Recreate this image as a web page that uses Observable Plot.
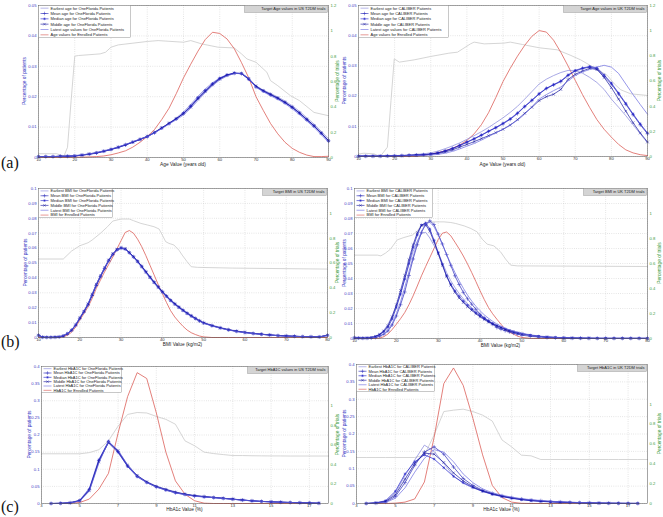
<!DOCTYPE html>
<html><head><meta charset="utf-8">
<script src="https://cdn.jsdelivr.net/npm/d3@7"></script>
<script src="https://cdn.jsdelivr.net/npm/@observablehq/plot@0.6"></script>
<style>
body{margin:0;background:#fff;}
#root{position:relative;width:663px;height:517px;overflow:hidden;font-family:"Liberation Sans",Arial,sans-serif;background:#fff;}
</style></head><body><div id="root"></div>
<script>
// ---------- tick labels ----------
const ageTicks = [10,20,30,40,50,60,70,80,90];
const ageYTicks = [0,0.01,0.02,0.03,0.04,0.05];
const bmiTicks = [10,20,30,40,50,60,70,80];
const bmiYTicks = [0,0.01,0.02,0.03,0.04,0.05,0.06,0.07,0.08,0.09,0.1];
const hbaTicks = [3,5,7,9,11,13,15,17];
const hbaYTicks = [0,0.05,0.1,0.15,0.2,0.25,0.3,0.35,0.4];
const trialTicks12 = [0,0.2,0.4,0.6,0.8,1,1.2];
const trialTicks10 = [0,0.2,0.4,0.6,0.8,1];

// ---------- (a) Age ----------
const ageX = [10,12,14,16,18,20,22,24,26,28,30,32,34,36,38,40,42,44,46,48,50,52,54,56,58,60,62,64,66,68,70,72,74,76,78,80,82,84,86,88,90];
const ofAgeEarliest = [0.0003,0.0003,0.0003,0.0004,0.0004,0.0005,0.0007,0.0010,0.0014,0.0020,0.0026,0.0033,0.0041,0.0050,0.0059,0.0069,0.0082,0.0097,0.0113,0.0130,0.0150,0.0175,0.0202,0.0226,0.0246,0.0262,0.0272,0.0277,0.0275,0.0258,0.0236,0.0222,0.0211,0.0199,0.0186,0.0170,0.0152,0.0131,0.0110,0.0086,0.0062];
const ofAgeMean = [0.0003,0.0003,0.0003,0.0004,0.0004,0.0005,0.0008,0.0011,0.0015,0.0021,0.0027,0.0034,0.0042,0.0051,0.0060,0.0069,0.0082,0.0097,0.0112,0.0127,0.0145,0.0168,0.0195,0.0219,0.0241,0.0259,0.0271,0.0277,0.0276,0.0258,0.0233,0.0219,0.0207,0.0195,0.0181,0.0165,0.0146,0.0125,0.0104,0.0080,0.0055];
const ofAgeMedian = [0.0003,0.0003,0.0003,0.0004,0.0004,0.0005,0.0008,0.0011,0.0015,0.0020,0.0026,0.0033,0.0041,0.0050,0.0059,0.0068,0.0081,0.0096,0.0111,0.0127,0.0146,0.0170,0.0197,0.0221,0.0243,0.0261,0.0272,0.0278,0.0276,0.0257,0.0232,0.0218,0.0206,0.0194,0.0180,0.0164,0.0145,0.0124,0.0103,0.0079,0.0054];
const ofAgeMiddle = [0.0003,0.0003,0.0003,0.0004,0.0005,0.0006,0.0008,0.0012,0.0016,0.0021,0.0027,0.0034,0.0042,0.0051,0.0060,0.0070,0.0083,0.0098,0.0113,0.0128,0.0144,0.0166,0.0193,0.0217,0.0239,0.0258,0.0270,0.0277,0.0277,0.0260,0.0235,0.0220,0.0208,0.0196,0.0182,0.0166,0.0147,0.0126,0.0105,0.0081,0.0056];
const ofAgeLatest = [0.0003,0.0003,0.0003,0.0004,0.0005,0.0006,0.0009,0.0012,0.0016,0.0022,0.0028,0.0035,0.0043,0.0052,0.0061,0.0069,0.0081,0.0095,0.0110,0.0124,0.0140,0.0162,0.0188,0.0213,0.0236,0.0255,0.0268,0.0276,0.0277,0.0261,0.0231,0.0216,0.0203,0.0191,0.0177,0.0160,0.0141,0.0120,0.0099,0.0075,0.0050];
const ofAgeEnrolled = [0,0,0,0,0,0.0001,0.0001,0.0002,0.0003,0.0005,0.0009,0.0015,0.0022,0.0034,0.0050,0.0069,0.0092,0.0125,0.0162,0.0210,0.0262,0.0307,0.0350,0.0388,0.0412,0.0408,0.0390,0.0358,0.0312,0.0262,0.0200,0.0155,0.0112,0.0078,0.0050,0.0030,0.0017,0.0008,0.0003,0.0003,0.0004];
const ofAgeTrialX = [10,15,17,18,19,20,21,27,28.5,30,32,40,43,50,52,55,59.5,64,66,67.5,70,73,74,76,79.5,82,86,90];
const ofAgeTrial = [0.03,0.03,0.01,0.08,0.45,0.80,0.805,0.818,0.831,0.871,0.889,0.916,0.923,0.910,0.923,0.897,0.871,0.865,0.818,0.778,0.752,0.673,0.607,0.567,0.488,0.449,0.356,0.330];

const calAgeEarliest = [0.0003,0.0003,0.0002,0.0002,0.0002,0.0003,0.0004,0.0005,0.0007,0.0009,0.0012,0.0018,0.0026,0.0035,0.0045,0.0057,0.0069,0.0082,0.0096,0.0112,0.0128,0.0146,0.0166,0.0190,0.0215,0.0240,0.0256,0.0268,0.0278,0.0285,0.0285,0.0276,0.0262,0.0245,0.0222,0.0190,0.0163,0.0135,0.0105,0.0075,0.0045];
const calAgeMean = [0.0001,0.0001,0.0001,0.0001,0.0002,0.0002,0.0003,0.0004,0.0005,0.0006,0.0008,0.0012,0.0018,0.0026,0.0036,0.0047,0.0058,0.0070,0.0083,0.0095,0.0108,0.0123,0.0142,0.0165,0.0185,0.0207,0.0225,0.0237,0.0248,0.0268,0.0283,0.0291,0.0296,0.0290,0.0265,0.0240,0.0207,0.0173,0.0138,0.0105,0.0075];
const calAgeMedian = [0.0001,0.0001,0.0001,0.0001,0.0002,0.0002,0.0003,0.0004,0.0005,0.0006,0.0008,0.0012,0.0019,0.0027,0.0037,0.0048,0.0059,0.0071,0.0084,0.0096,0.0110,0.0125,0.0144,0.0166,0.0187,0.0208,0.0226,0.0238,0.0250,0.0270,0.0285,0.0293,0.0298,0.0294,0.0270,0.0243,0.0210,0.0176,0.0141,0.0108,0.0078];
const calAgeMiddle = [0.0001,0.0001,0.0001,0.0001,0.0001,0.0002,0.0002,0.0003,0.0004,0.0005,0.0007,0.0010,0.0015,0.0022,0.0031,0.0040,0.0049,0.0059,0.0069,0.0079,0.0090,0.0104,0.0122,0.0143,0.0163,0.0185,0.0198,0.0206,0.0222,0.0255,0.0272,0.0283,0.0292,0.0288,0.0262,0.0228,0.0190,0.0150,0.0112,0.0078,0.0048];
const calAgeLatest = [0.0001,0.0001,0.0001,0.0001,0.0001,0.0002,0.0002,0.0003,0.0003,0.0004,0.0005,0.0007,0.0011,0.0017,0.0025,0.0034,0.0043,0.0054,0.0066,0.0078,0.0090,0.0104,0.0120,0.0140,0.0165,0.0190,0.0205,0.0218,0.0230,0.0250,0.0268,0.0280,0.0288,0.0296,0.0302,0.0296,0.0275,0.0240,0.0205,0.0172,0.0140];
const calAgeEnrolled = [0,0,0,0,0,0,0,0,0,0.0004,0.0008,0.0013,0.0019,0.0027,0.0038,0.0053,0.0075,0.0105,0.0145,0.0195,0.0248,0.0292,0.0332,0.0368,0.0398,0.0417,0.0412,0.0385,0.0345,0.0300,0.0252,0.0205,0.0162,0.0122,0.0090,0.0064,0.0040,0.0022,0.0012,0.0006,0.0003];
const calAgeTrialX = [10,11.5,14.3,16,18,19,19.9,21.3,25.4,30,35,37.4,41,42,44.8,50.3,52,55.4,60,65,68.8,71.5,75,78.9,80.8,82.6,85.4,90];
const calAgeTrial = [0.02,0.026,0.021,0,0.074,0.445,0.776,0.75,0.768,0.795,0.821,0.829,0.895,0.909,0.895,0.901,0.909,0.89,0.864,0.848,0.803,0.768,0.71,0.644,0.578,0.530,0.498,0.485];

// ---------- (b) BMI ----------
const bmiX = [10,11,12,13,14,15,16,17,18,19,20,21,22,23,24,25,26,27,28,29,30,31,32,33,34,35,36,37,38,39,40,41,42,43,44,45,46,47,48,49,50,52,54,56,58,60,62,64,66,68,70,72,74,76,78,80];
const ofBmiEarliest = [0.0016,0.0002,0.0001,0.0001,0.0002,0.0004,0.0010,0.0024,0.0046,0.0080,0.0125,0.0168,0.0216,0.0278,0.0345,0.0403,0.0457,0.0510,0.0553,0.0584,0.0597,0.0592,0.0570,0.0543,0.0514,0.0481,0.0446,0.0411,0.0377,0.0345,0.0313,0.0283,0.0255,0.0231,0.0209,0.0188,0.0168,0.0150,0.0132,0.0116,0.0102,0.0084,0.0068,0.0055,0.0044,0.0036,0.0029,0.0023,0.0018,0.0014,0.0011,0.0009,0.0007,0.0005,0.0004,0.0016];
const ofBmiMean = [0.0015,0.0002,0.0001,0.0001,0.0002,0.0004,0.0010,0.0025,0.0048,0.0082,0.0128,0.0172,0.0220,0.0283,0.0350,0.0408,0.0462,0.0515,0.0558,0.0588,0.0600,0.0594,0.0570,0.0542,0.0512,0.0478,0.0442,0.0406,0.0372,0.0340,0.0308,0.0278,0.0250,0.0226,0.0204,0.0183,0.0163,0.0145,0.0128,0.0112,0.0098,0.0080,0.0065,0.0052,0.0042,0.0034,0.0027,0.0022,0.0017,0.0013,0.0010,0.0008,0.0006,0.0005,0.0004,0.0015];
const ofBmiMedian = [0.0014,0.0002,0.0001,0.0001,0.0002,0.0004,0.0011,0.0026,0.0050,0.0085,0.0130,0.0175,0.0224,0.0287,0.0354,0.0412,0.0466,0.0518,0.0560,0.0590,0.0601,0.0593,0.0568,0.0540,0.0509,0.0475,0.0439,0.0403,0.0369,0.0337,0.0305,0.0276,0.0248,0.0224,0.0202,0.0181,0.0161,0.0144,0.0127,0.0111,0.0097,0.0079,0.0064,0.0051,0.0041,0.0033,0.0027,0.0021,0.0017,0.0013,0.0010,0.0008,0.0006,0.0005,0.0004,0.0014];
const ofBmiMiddle = [0.0015,0.0002,0.0001,0.0001,0.0002,0.0005,0.0011,0.0026,0.0049,0.0084,0.0131,0.0176,0.0225,0.0290,0.0357,0.0414,0.0468,0.0520,0.0562,0.0592,0.0603,0.0596,0.0571,0.0542,0.0511,0.0476,0.0440,0.0404,0.0370,0.0338,0.0306,0.0277,0.0249,0.0225,0.0203,0.0182,0.0162,0.0144,0.0127,0.0111,0.0097,0.0079,0.0064,0.0052,0.0042,0.0034,0.0027,0.0022,0.0017,0.0013,0.0010,0.0008,0.0006,0.0005,0.0004,0.0015];
const ofBmiLatest = [0.0014,0.0002,0.0001,0.0001,0.0002,0.0005,0.0012,0.0027,0.0051,0.0087,0.0134,0.0179,0.0228,0.0292,0.0358,0.0415,0.0468,0.0519,0.0560,0.0590,0.0602,0.0594,0.0567,0.0537,0.0505,0.0470,0.0434,0.0398,0.0364,0.0332,0.0300,0.0271,0.0244,0.0220,0.0198,0.0178,0.0158,0.0141,0.0124,0.0109,0.0095,0.0077,0.0062,0.0050,0.0040,0.0032,0.0026,0.0021,0.0016,0.0012,0.0009,0.0007,0.0006,0.0005,0.0004,0.0014];
const ofBmiEnrolled = [0,0,0,0,0,0,0.0005,0.0015,0.0035,0.0070,0.0116,0.0160,0.0205,0.0262,0.0330,0.0385,0.0440,0.0490,0.0540,0.0595,0.0650,0.0705,0.0718,0.0700,0.0660,0.0610,0.0550,0.0485,0.0420,0.0355,0.0295,0.0235,0.0180,0.0138,0.0105,0.0075,0.0050,0.0032,0.0020,0.0010,0.0004,0,0,0,0,0,0,0,0,0,0,0,0,0,0,0];
const ofBmiTrialX = [10,16,18,20,22,23,25,26.7,28,30,32,33,34.8,36.4,38,39.2,40,40.8,41.6,42.8,44,44.8,46,47,48.5,57,80];
const ofBmiTrial = [0.632,0.632,0.696,0.739,0.763,0.785,0.839,0.892,0.938,0.954,0.954,0.941,0.919,0.906,0.892,0.874,0.825,0.772,0.758,0.745,0.704,0.664,0.610,0.570,0.565,0.559,0.551];

const calBmiEarliest = [0.0006,0.0004,0.0003,0.0004,0.0008,0.0016,0.0030,0.0055,0.0095,0.0150,0.0218,0.0300,0.0395,0.0490,0.0580,0.0650,0.0700,0.0708,0.0670,0.0620,0.0573,0.0505,0.0440,0.0385,0.0340,0.0300,0.0265,0.0233,0.0205,0.0180,0.0158,0.0138,0.0120,0.0104,0.0090,0.0077,0.0066,0.0056,0.0048,0.0041,0.0035,0.0025,0.0017,0.0012,0.0008,0.0006,0.0004,0.0003,0.0002,0.0002,0.0001,0.0001,0.0001,0.0001,0.0001,0.0001];
const calBmiMean = [0.0005,0.0003,0.0002,0.0002,0.0003,0.0007,0.0015,0.0028,0.0050,0.0090,0.0150,0.0225,0.0310,0.0420,0.0530,0.0625,0.0707,0.0760,0.0785,0.0760,0.0696,0.0630,0.0560,0.0488,0.0418,0.0360,0.0307,0.0265,0.0229,0.0195,0.0162,0.0138,0.0118,0.0095,0.0073,0.0062,0.0052,0.0044,0.0036,0.0029,0.0022,0.0015,0.0010,0.0006,0.0004,0.0003,0.0002,0.0002,0.0001,0.0001,0.0001,0.0001,0.0001,0.0001,0.0001,0.0001];
const calBmiMedian = [0.0005,0.0003,0.0002,0.0003,0.0006,0.0012,0.0025,0.0045,0.0075,0.0130,0.0207,0.0295,0.0396,0.0500,0.0607,0.0690,0.0756,0.0770,0.0730,0.0655,0.0573,0.0495,0.0418,0.0362,0.0318,0.0282,0.0250,0.0222,0.0196,0.0172,0.0151,0.0132,0.0115,0.0100,0.0086,0.0074,0.0063,0.0053,0.0045,0.0038,0.0032,0.0022,0.0015,0.0010,0.0007,0.0005,0.0003,0.0002,0.0002,0.0001,0.0001,0.0001,0.0001,0.0001,0.0001,0.0001];
const calBmiMiddle = [0.0005,0.0003,0.0002,0.0003,0.0006,0.0013,0.0027,0.0050,0.0085,0.0145,0.0225,0.0320,0.0420,0.0525,0.0625,0.0705,0.0755,0.0758,0.0715,0.0645,0.0565,0.0488,0.0415,0.0355,0.0308,0.0270,0.0240,0.0212,0.0188,0.0165,0.0145,0.0127,0.0110,0.0096,0.0083,0.0071,0.0060,0.0051,0.0043,0.0036,0.0030,0.0021,0.0014,0.0009,0.0006,0.0004,0.0003,0.0002,0.0002,0.0001,0.0001,0.0001,0.0001,0.0001,0.0001,0.0001];
const calBmiLatest = [0.0005,0.0003,0.0002,0.0002,0.0004,0.0008,0.0017,0.0032,0.0058,0.0100,0.0165,0.0245,0.0340,0.0445,0.0545,0.0640,0.0715,0.0765,0.0775,0.0745,0.0690,0.0625,0.0560,0.0498,0.0440,0.0385,0.0335,0.0290,0.0250,0.0215,0.0185,0.0158,0.0135,0.0115,0.0097,0.0082,0.0069,0.0058,0.0048,0.0040,0.0033,0.0022,0.0015,0.0010,0.0007,0.0005,0.0003,0.0002,0.0002,0.0001,0.0001,0.0001,0.0001,0.0001,0.0001,0.0001];
const calBmiEnrolled = [0,0,0,0,0,0,0.0003,0.0012,0.0030,0.0060,0.0095,0.0132,0.0173,0.0225,0.0284,0.0350,0.0418,0.0480,0.0540,0.0600,0.0660,0.0702,0.0710,0.0685,0.0642,0.0598,0.0550,0.0497,0.0440,0.0380,0.0318,0.0260,0.0207,0.0165,0.0129,0.0095,0.0062,0.0042,0.0029,0.0015,0.0007,0.0001,0,0,0,0,0,0,0,0,0,0,0,0,0,0];
const calBmiTrialX = [10,15.5,16.3,17.4,18.6,20.2,21.8,23.8,25,25.8,27,28.2,31.4,33,34.2,36.2,37.8,39.3,40.5,41.7,43.3,44.9,46.1,47.3,48.9,80];
const calBmiTrial = [0.667,0.667,0.661,0.683,0.715,0.789,0.808,0.827,0.861,0.896,0.928,0.933,0.933,0.928,0.92,0.901,0.88,0.853,0.795,0.755,0.741,0.693,0.635,0.587,0.581,0.576];

// ---------- (c) HbA1c ----------
const hbaX = [3.5,4,4.5,5,5.5,6,6.5,7,7.5,8,8.5,9,9.5,10,10.5,11,11.5,12,12.5,13,13.5,14,14.5,15,15.5,16,16.5,17,17.5];
const ofHbaEarliest = [0,0.0006,0.0025,0.010,0.045,0.130,0.176,0.148,0.109,0.081,0.064,0.051,0.042,0.034,0.028,0.023,0.021,0.018,0.0155,0.013,0.0104,0.0081,0.0063,0.0051,0.004,0.0031,0.0023,0.0016,0.0009];
const ofHbaMean = [0,0.0005,0.002,0.008,0.040,0.125,0.180,0.152,0.110,0.080,0.062,0.049,0.040,0.032,0.027,0.022,0.020,0.0175,0.015,0.0126,0.010,0.0078,0.006,0.0049,0.0038,0.003,0.0022,0.0015,0.0008];
const ofHbaMedian = [0,0.0005,0.002,0.009,0.042,0.127,0.182,0.150,0.108,0.078,0.061,0.048,0.039,0.031,0.026,0.022,0.019,0.017,0.0148,0.0124,0.0099,0.0077,0.006,0.0048,0.0037,0.0029,0.0021,0.0014,0.0008];
const ofHbaMiddle = [0,0.0005,0.002,0.008,0.038,0.122,0.178,0.154,0.112,0.082,0.063,0.050,0.041,0.033,0.027,0.023,0.020,0.0177,0.0152,0.0128,0.0102,0.0079,0.0061,0.005,0.0039,0.003,0.0022,0.0015,0.0008];
const ofHbaLatest = [0,0.0004,0.0018,0.007,0.036,0.118,0.181,0.156,0.113,0.080,0.061,0.048,0.039,0.031,0.026,0.021,0.019,0.017,0.0146,0.0122,0.0097,0.0075,0.0058,0.0047,0.0036,0.0028,0.002,0.0014,0.0007];
const ofHbaEnrolled = [0,0,0.0005,0.003,0.013,0.042,0.088,0.205,0.312,0.382,0.365,0.265,0.150,0.066,0.027,0.008,0.001,0,0,0,0,0,0,0,0,0,0,0,0];
const hbaTrialX = [3,3.5,4,4.5,5,5.5,6,6.5,7,7.5,8,8.5,9,9.5,10,10.5,11,11.5,12,12.5,13,13.5,14,14.5,15,15.5,16,16.5,17,17.5,18];
const ofHbaTrial = [0.508,0.508,0.508,0.508,0.508,0.52,0.55,0.64,0.79,0.91,0.93,0.925,0.89,0.86,0.81,0.64,0.59,0.525,0.51,0.50,0.49,0.49,0.488,0.487,0.486,0.486,0.485,0.485,0.485,0.485,0.485];

const calHbaEarliest = [0,0.002,0.006,0.030,0.080,0.125,0.168,0.150,0.115,0.080,0.058,0.045,0.035,0.027,0.020,0.015,0.011,0.008,0.006,0.005,0.004,0.003,0.002,0.0015,0.001,0.0007,0.0005,0.0003,0.0002];
const calHbaMean = [0,0.001,0.004,0.020,0.060,0.110,0.148,0.163,0.142,0.105,0.072,0.052,0.038,0.029,0.022,0.017,0.013,0.010,0.008,0.006,0.0045,0.0035,0.0025,0.0018,0.0012,0.0008,0.0005,0.0003,0.0002];
const calHbaMedian = [0,0.002,0.008,0.035,0.085,0.120,0.140,0.128,0.103,0.078,0.060,0.046,0.035,0.026,0.020,0.015,0.011,0.008,0.006,0.0045,0.0035,0.0026,0.0019,0.0014,0.001,0.0007,0.0005,0.0003,0.0002];
const calHbaMiddle = [0,0.0015,0.006,0.025,0.070,0.115,0.145,0.142,0.118,0.088,0.065,0.048,0.036,0.028,0.021,0.016,0.012,0.009,0.007,0.0052,0.004,0.003,0.0022,0.0016,0.0011,0.0008,0.0005,0.0003,0.0002];
const calHbaLatest = [0,0.001,0.003,0.015,0.045,0.090,0.130,0.155,0.148,0.120,0.085,0.060,0.042,0.031,0.024,0.018,0.014,0.011,0.0085,0.0065,0.005,0.0038,0.0028,0.002,0.0014,0.001,0.0006,0.0004,0.0002];
const calHbaEnrolled = [0,0,0,0.001,0.004,0.013,0.062,0.190,0.345,0.390,0.340,0.245,0.140,0.052,0.017,0.004,0.0005,0,0,0,0,0,0,0,0,0,0,0,0];
const calHbaTrial = [0.463,0.463,0.463,0.463,0.463,0.463,0.463,0.487,0.69,0.926,0.94,0.95,0.926,0.89,0.83,0.64,0.57,0.487,0.48,0.443,0.443,0.443,0.443,0.443,0.443,0.443,0.443,0.443,0.443,0.443,0.443];

// ---------- legend texts ----------
const ofAgeLegend = ["Earliest age for OneFlorida Patients","Mean age for OneFlorida Patients","Median age for OneFlorida Patients","Middle age for OneFlorida Patients","Latest age values for OneFlorida Patients","Age values for Enrolled Patients"];
const calAgeLegend = ["Earliest age for CALIBER Patients","Mean age for CALIBER Patients","Median age for CALIBER Patients","Middle age for CALIBER Patients","Latest age values for CALIBER Patients","Age values for Enrolled Patients"];
const ofBmiLegend = ["Earliest BMI for OneFlorida Patients","Mean BMI for OneFlorida Patients","Median BMI for OneFlorida Patients","Middle BMI for OneFlorida Patients","Latest BMI for OneFlorida Patients","BMI for Enrolled Patients"];
const calBmiLegend = ["Earliest BMI for CALIBER Patients","Mean BMI for CALIBER Patients","Median BMI for CALIBER Patients","Middle BMI for CALIBER Patients","Latest BMI for CALIBER Patients","BMI for Enrolled Patients"];
const ofHbaLegend = ["Earliest HbA1C for OneFlorida Patients","Mean HbA1C for OneFlorida Patients","Median HbA1C for OneFlorida Patients","Middle HbA1C for OneFlorida Patients","Latest HbA1C for OneFlorida Patients","HbA1C for Enrolled Patients"];
const calHbaLegend = ["Earliest HbA1C for CALIBER Patients","Mean HbA1C for CALIBER Patients","Median HbA1C for CALIBER Patients","Middle HbA1C for CALIBER Patients","Latest HbA1C for CALIBER Patients","HbA1C for Enrolled Patients"];

// ---------- styles ----------
const BLUE_TXT = "#3b3bc4", GREEN_TXT = "#3c9a3c";
const styles = [
  {color:"#8484da", w:0.7, symbol:null},
  {color:"#2525b8", w:0.7, symbol:"plus", d3sym:d3.symbolPlus},
  {color:"#1e1ec8", w:0.7, symbol:"asterisk", d3sym:d3.symbolAsterisk},
  {color:"#16169e", w:0.7, symbol:"times", d3sym:d3.symbolTimes},
  {color:"#6a6ae0", w:0.7, symbol:null}
];
const enrolledColor = "#d9554f";
const trialColor = "#cacaca";
const FONT = "Liberation Sans, Arial, sans-serif";

const panels = [
  {box:[0,0,340,172], m:[5,12,15,38], xd:[10,90], xt:ageTicks, yd:[0,0.05], yt:ageYTicks, gMax:1.2, gt:trialTicks12,
   x:ageX, series:[ofAgeEarliest,ofAgeMean,ofAgeMedian,ofAgeMiddle,ofAgeLatest], enr:ofAgeEnrolled, tx:ofAgeTrialX, tv:ofAgeTrial,
   legend:ofAgeLegend, target:"Target Age values in US T2DM trials", side:"L", lsize:[92,32], tw:83, xlab:"Age Value (years old)", xlabY:164.5, ylabX:24},
  {box:[330,0,333,172], m:[5,16,16,28], xd:[10,90], xt:ageTicks, yd:[0,0.05], yt:ageYTicks, gMax:1.2, gt:trialTicks12,
   x:ageX, series:[calAgeEarliest,calAgeMean,calAgeMedian,calAgeMiddle,calAgeLatest], enr:calAgeEnrolled, tx:calAgeTrialX, tv:calAgeTrial,
   legend:calAgeLegend, target:"Target Age values in UK T2DM trials", side:"R", lsize:[90,32], tw:83, xlab:"Age Value (years old)", xlabY:164.5},
  {box:[0,175,340,175], m:[13,13,13,38], xd:[10,80], xt:bmiTicks, yd:[0,0.1], yt:bmiYTicks, gMax:1.2, gt:trialTicks10,
   x:bmiX, series:[ofBmiEarliest,ofBmiMean,ofBmiMedian,ofBmiMiddle,ofBmiLatest], enr:ofBmiEnrolled, tx:ofBmiTrialX, tv:ofBmiTrial,
   legend:ofBmiLegend, target:"Target BMI in US T2DM trials", side:"L", lsize:[74,29], tw:64, xlab:"BMI Value (kg/m2)", xlabY:169.5, ylabX:25},
  {box:[330,175,333,175], m:[13,16,12,24], xd:[10,80], xt:bmiTicks, yd:[0,0.1], yt:bmiYTicks, gMax:1.2, gt:trialTicks10,
   x:bmiX, series:[calBmiEarliest,calBmiMean,calBmiMedian,calBmiMiddle,calBmiLatest], enr:calBmiEnrolled, tx:calBmiTrialX, tv:calBmiTrial,
   legend:calBmiLegend, target:"Target BMI in UK T2DM trials", side:"R", lsize:[78,29], tw:63, xlab:"BMI Value (kg/m2)", xlabY:170},
  {box:[0,350,340,167], m:[16,12,14,41], xd:[3,18], xt:hbaTicks, yd:[0,0.4], yt:hbaYTicks, gMax:1.4, gt:trialTicks10,
   x:hbaX, series:[ofHbaEarliest,ofHbaMean,ofHbaMedian,ofHbaMiddle,ofHbaLatest], enr:ofHbaEnrolled, tx:hbaTrialX, tv:ofHbaTrial,
   legend:ofHbaLegend, target:"Target HbA1C values in US T2DM trials", side:"L", lsize:[80,26], tw:80, xlab:"HbA1c Value (%)", xlabY:159.5, ylabX:29},
  {box:[330,350,333,167], m:[14,16,14,26], xd:[3,18], xt:hbaTicks, yd:[0,0.4], yt:hbaYTicks, gMax:1.4, gt:trialTicks10,
   x:hbaX, series:[calHbaEarliest,calHbaMean,calHbaMedian,calHbaMiddle,calHbaLatest], enr:calHbaEnrolled, tx:hbaTrialX, tv:calHbaTrial,
   legend:calHbaLegend, target:"Target HbA1C in UK T2DM trials", side:"R", lsize:[78,27], tw:69, xlab:"HbA1c Value (%)", xlabY:159.5}
];

const fmtY = d => d === 0 ? "0" : String(+d.toFixed(3));

function drawPanel(p) {
  const [left, top, width, height] = p.box;
  const [mt, mr, mb, ml] = p.m;
  const k = p.yd[1] / p.gMax;
  const rows = s => p.x.map((x, i) => ({x, y: s[i]}));
  const trialRows = p.tx.map((x, i) => ({x, y: p.tv[i] * k}));
  const gridStyle = {stroke:"#a8a8a8", strokeOpacity:0.9, strokeWidth:0.4, strokeDasharray:"0.8,1.4"};
  const marks = [
    Plot.gridX(p.xt, gridStyle),
    Plot.gridY(p.yt, gridStyle),
    Plot.line(trialRows, {x:"x", y:"y", stroke:trialColor, strokeWidth:0.8}),
    Plot.line(rows(p.enr), {x:"x", y:"y", stroke:enrolledColor, strokeWidth:0.75})
  ];
  styles.forEach((st, i) => {
    const r = rows(p.series[i]);
    marks.push(Plot.line(r, {x:"x", y:"y", stroke:st.color, strokeWidth:st.w}));
    if (st.symbol) marks.push(Plot.dot(r, {x:"x", y:"y", symbol:st.symbol, r:1.4, stroke:st.color, strokeWidth:0.45}));
  });
  marks.push(Plot.frame({stroke:"#4a4a4a", strokeWidth:0.5}));
  marks.push(Plot.axisX(p.xt, {tickSize:0, tickPadding:1, color:"#333", label:null, fontSize:4.2}));
  marks.push(Plot.axisY(p.yt, {anchor:"left", tickSize:0, tickPadding:2, color:BLUE_TXT, label:null, fontSize:4.2, tickFormat:fmtY}));
  marks.push(Plot.axisY(p.gt.map(t => t * k), {anchor:"right", tickSize:0, tickPadding:2, color:GREEN_TXT, label:null, fontSize:4.2,
    tickFormat: d => String(Math.round(d / k * 10) / 10)}));

  const svg = Plot.plot({
    width, height, marginTop:mt, marginRight:mr, marginBottom:mb, marginLeft:ml,
    x:{domain:p.xd}, y:{domain:p.yd},
    style:{fontSize:"4.2px", fontFamily:FONT, background:"transparent", overflow:"visible"},
    marks
  });
  svg.style.position = "absolute";
  svg.style.left = left + "px";
  svg.style.top = top + "px";

  const g = d3.select(svg).append("g").attr("font-family", FONT).attr("text-anchor", "start");
  const pw = width - ml - mr, ph = height - mt - mb;
  // axis titles
  g.append("text").attr("x", ml + pw / 2).attr("y", p.xlabY).attr("dy", "0.35em").attr("text-anchor", "middle")
    .attr("font-size", 4.8).attr("fill", "#222").text(p.xlab);
  const vlab = (x, text, color) => g.append("text").attr("transform", `translate(${x},${mt + ph / 2}) rotate(-90)`)
    .attr("dy", "0.35em").attr("text-anchor", "middle").attr("font-size", 4.8).attr("fill", color).text(text);
  if (p.side === "L") {
    vlab(p.ylabX, "Percentage of patients", BLUE_TXT);
    vlab(width - 2.5, "Percentage of trials", GREEN_TXT);
  } else {
    vlab(14, "Percentage of patients", BLUE_TXT);
    vlab(width - 4, "Percentage of trials", GREEN_TXT);
  }
  // legend box
  const [lw, lh] = p.lsize;
  const x0 = ml + 0.5, y0 = mt + 0.5;
  g.append("rect").attr("x", x0).attr("y", y0).attr("width", lw).attr("height", lh)
    .attr("fill", "#fff").attr("stroke", "#777").attr("stroke-width", 0.4);
  const rh = lh / 6;
  const items = styles.concat([{color:enrolledColor}]);
  p.legend.forEach((t, i) => {
    const cy = y0 + rh * (i + 0.5);
    const st = items[i];
    g.append("line").attr("x1", x0 + 2).attr("x2", x0 + 10).attr("y1", cy).attr("y2", cy)
      .attr("stroke", st.color).attr("stroke-width", 0.6);
    if (st.d3sym) g.append("path").attr("d", d3.symbol(st.d3sym, 5)()).attr("transform", `translate(${x0 + 6},${cy})`)
      .attr("fill", "none").attr("stroke", st.color).attr("stroke-width", 0.45);
    g.append("text").attr("x", x0 + 12).attr("y", cy).attr("dy", "0.35em").attr("text-anchor", "start")
      .attr("font-size", 4).attr("fill", "#222").text(t);
  });
  // target legend
  const xr = width - mr - 0.5;
  g.append("rect").attr("x", xr - p.tw).attr("y", y0).attr("width", p.tw).attr("height", 7)
    .attr("fill", "#d4d4d4").attr("stroke", "#8a8a8a").attr("stroke-width", 0.4);
  g.append("text").attr("x", xr - 2).attr("y", y0 + 3.5).attr("dy", "0.35em").attr("text-anchor", "end")
    .attr("font-size", 4).attr("fill", "#222").text(p.target);
  return svg;
}

const root = document.getElementById("root");
panels.forEach(p => root.appendChild(drawPanel(p)));

// panel letters
const ov = d3.select(root).append("svg").attr("width", 663).attr("height", 517)
  .style("position", "absolute").style("left", "0px").style("top", "0px").style("pointer-events", "none");
[["(a)", 168], ["(b)", 347], ["(c)", 512]].forEach(([t, y]) =>
  ov.append("text").attr("x", 1).attr("y", y).attr("font-family", "Liberation Serif, DejaVu Serif, serif")
    .attr("font-size", 16).attr("fill", "#111").text(t));
</script>
</body></html>
